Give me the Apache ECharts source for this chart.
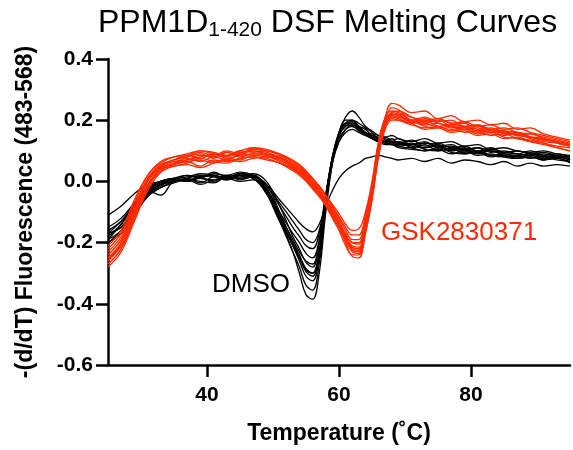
<!DOCTYPE html>
<html>
<head>
<meta charset="utf-8">
<script src="https://cdn.jsdelivr.net/npm/echarts@6/dist/echarts.min.js"></script>
<style>
  html, body { margin: 0; padding: 0; background: #fff; }
  #chart { width: 573px; height: 450px; }
</style>
</head>
<body>
<div id="chart"></div>
<script>
// temperatures (deg C) at which each curve is sampled
var temps = [25, 27, 29, 31, 33, 35,
             37, 39, 41, 43, 45, 47,
             49, 51, 53, 54, 55, 56, 57, 58,
             59, 60, 61, 62, 63, 64, 65, 66, 67, 68, 69,
             71, 73, 75, 77, 79, 81, 83, 85, 87, 89, 91, 93, 95];

var xTicks = [40, 60, 80];

// DMSO replicates, -(d/dT) fluorescence
var dmso1 = [-0.17, -0.15, -0.09, -0.04, -0.01, 0.0,
    0.01, -0.005, 0.015, 0.005, 0.02, 0.01,
    -0.03, -0.12, -0.23, -0.3, -0.37, -0.385, -0.3, -0.1,
    0.06, 0.16, 0.21, 0.23, 0.21, 0.18, 0.165, 0.15, 0.145, 0.15, 0.14,
    0.13, 0.14, 0.125, 0.13, 0.115, 0.12, 0.105, 0.11, 0.1, 0.095, 0.1, 0.09, 0.085];
var dmso2 = [-0.19, -0.16, -0.1, -0.045, -0.015, 0.005,
    0.0, 0.015, 0.02, 0.01, 0.025, 0.015,
    -0.035, -0.13, -0.23, -0.28, -0.34, -0.355, -0.27, -0.08,
    0.07, 0.15, 0.19, 0.2, 0.19, 0.175, 0.16, 0.14, 0.145, 0.135, 0.14,
    0.12, 0.125, 0.115, 0.12, 0.105, 0.11, 0.1, 0.095, 0.1, 0.09, 0.095, 0.085, 0.08];
var dmso3 = [-0.2, -0.17, -0.11, -0.05, -0.02, 0.0,
    0.005, 0.0, -0.005, 0.015, 0.01, 0.02,
    -0.02, -0.11, -0.21, -0.26, -0.31, -0.325, -0.25, -0.07,
    0.06, 0.15, 0.19, 0.195, 0.18, 0.16, 0.15, 0.14, 0.13, 0.14, 0.125,
    0.135, 0.115, 0.125, 0.11, 0.115, 0.1, 0.105, 0.095, 0.09, 0.1, 0.085, 0.08, 0.075];
var dmso4 = [-0.16, -0.13, -0.08, -0.03, 0.0, 0.01,
    0.015, 0.025, 0.02, 0.01, 0.015, 0.02,
    -0.025, -0.12, -0.21, -0.25, -0.295, -0.31, -0.24, -0.06,
    0.08, 0.16, 0.2, 0.2, 0.18, 0.16, 0.155, 0.15, 0.135, 0.13, 0.13,
    0.12, 0.125, 0.12, 0.105, 0.11, 0.1, 0.11, 0.095, 0.1, 0.09, 0.085, 0.09, 0.08];
var dmso5 = [-0.18, -0.14, -0.07, -0.02, 0.0, 0.005,
    0.02, 0.01, 0.03, 0.015, 0.025, 0.01,
    -0.04, -0.13, -0.2, -0.24, -0.285, -0.3, -0.23, -0.05,
    0.08, 0.15, 0.18, 0.19, 0.18, 0.17, 0.15, 0.14, 0.13, 0.125, 0.12,
    0.125, 0.11, 0.115, 0.1, 0.105, 0.095, 0.1, 0.09, 0.085, 0.09, 0.08, 0.085, 0.07];
var dmso6 = [-0.17, -0.15, -0.09, -0.035, -0.01, 0.0,
    0.01, 0.02, 0.015, 0.005, 0.02, 0.025,
    0.0, -0.08, -0.18, -0.22, -0.265, -0.28, -0.2, -0.05,
    0.08, 0.15, 0.185, 0.18, 0.17, 0.155, 0.14, 0.135, 0.125, 0.13, 0.115,
    0.11, 0.12, 0.1, 0.105, 0.095, 0.1, 0.085, 0.09, 0.08, 0.085, 0.075, 0.08, 0.07];
var dmso7 = [-0.19, -0.14, -0.085, -0.04, -0.02, -0.005,
    0.005, -0.01, 0.005, 0.01, 0.0, 0.005,
    -0.025, -0.1, -0.17, -0.2, -0.235, -0.25, -0.19, -0.05,
    0.07, 0.14, 0.17, 0.18, 0.165, 0.15, 0.14, 0.13, 0.12, 0.12, 0.11,
    0.105, 0.1, 0.11, 0.095, 0.09, 0.1, 0.085, 0.08, 0.085, 0.075, 0.08, 0.07, 0.065];
var dmso8 = [-0.15, -0.12, -0.07, -0.025, 0.0, 0.01,
    0.0, 0.015, 0.02, 0.01, 0.025, 0.01,
    -0.015, -0.08, -0.15, -0.18, -0.21, -0.22, -0.17, -0.04,
    0.07, 0.13, 0.16, 0.17, 0.16, 0.15, 0.145, 0.13, 0.125, 0.12, 0.115,
    0.12, 0.105, 0.1, 0.11, 0.09, 0.095, 0.08, 0.085, 0.075, 0.08, 0.07, 0.075, 0.065];
var dmso9 = [-0.18, -0.14, -0.08, -0.03, -0.045, 0.0,
    0.005, 0.01, 0.0, 0.02, 0.01, 0.015,
    -0.015, -0.07, -0.13, -0.16, -0.19, -0.2, -0.16, -0.05,
    0.06, 0.13, 0.17, 0.185, 0.17, 0.155, 0.14, 0.13, 0.13, 0.12, 0.125,
    0.11, 0.1, 0.105, 0.09, 0.1, 0.085, 0.09, 0.08, 0.075, 0.08, 0.07, 0.075, 0.06];
var dmso10 = [-0.11, -0.08, -0.04, -0.01, 0.0, 0.01,
    0.005, 0.015, 0.02, 0.01, 0.02, 0.01,
    -0.01, -0.06, -0.11, -0.135, -0.155, -0.165, -0.14, -0.08,
    -0.03, 0.01, 0.035, 0.05, 0.06, 0.075, 0.08, 0.085, 0.08, 0.075, 0.07,
    0.075, 0.065, 0.075, 0.06, 0.07, 0.065, 0.055, 0.065, 0.05, 0.06, 0.05, 0.055, 0.05];
var dmso11 = [-0.2, -0.16, -0.09, -0.04, -0.01, 0.01,
    0.02, 0.015, 0.025, 0.02, 0.03, 0.02,
    -0.01, -0.1, -0.2, -0.25, -0.29, -0.3, -0.23, -0.06,
    0.08, 0.16, 0.19, 0.19, 0.175, 0.16, 0.15, 0.145, 0.14, 0.13, 0.125,
    0.12, 0.13, 0.11, 0.115, 0.1, 0.11, 0.095, 0.1, 0.09, 0.085, 0.09, 0.08, 0.075];
var dmso12 = [-0.17, -0.13, -0.075, -0.03, -0.005, 0.005,
    0.0, 0.01, 0.005, 0.02, 0.005, 0.015,
    -0.04, -0.11, -0.19, -0.23, -0.26, -0.27, -0.2, -0.05,
    0.07, 0.15, 0.18, 0.185, 0.175, 0.16, 0.145, 0.14, 0.13, 0.125, 0.13,
    0.115, 0.11, 0.12, 0.1, 0.105, 0.09, 0.1, 0.085, 0.08, 0.085, 0.075, 0.08, 0.07];

// GSK2830371 replicates
var gsk1 = [-0.27, -0.22, -0.12, -0.02, 0.04, 0.06,
    0.075, 0.065, 0.08, 0.07, 0.09, 0.1,
    0.085, 0.07, 0.045, 0.03, 0.01, -0.015, -0.04, -0.075,
    -0.11, -0.15, -0.2, -0.245, -0.25, -0.17, -0.06, 0.1, 0.21, 0.255, 0.25,
    0.225, 0.23, 0.205, 0.215, 0.195, 0.2, 0.185, 0.19, 0.17, 0.175, 0.155, 0.145, 0.135];
var gsk2 = [-0.25, -0.2, -0.1, 0.0, 0.05, 0.07,
    0.08, 0.09, 0.075, 0.095, 0.085, 0.105,
    0.095, 0.08, 0.06, 0.045, 0.025, 0.0, -0.025, -0.06,
    -0.095, -0.13, -0.18, -0.22, -0.225, -0.15, -0.04, 0.11, 0.2, 0.24, 0.235,
    0.2, 0.21, 0.195, 0.2, 0.18, 0.185, 0.17, 0.175, 0.16, 0.155, 0.145, 0.135, 0.125];
var gsk3 = [-0.22, -0.17, -0.07, 0.02, 0.06, 0.08,
    0.085, 0.1, 0.09, 0.085, 0.1, 0.095,
    0.1, 0.085, 0.065, 0.05, 0.03, 0.005, -0.02, -0.05,
    -0.085, -0.12, -0.16, -0.19, -0.19, -0.12, -0.02, 0.12, 0.2, 0.22, 0.215,
    0.195, 0.185, 0.19, 0.175, 0.18, 0.165, 0.17, 0.155, 0.16, 0.145, 0.135, 0.13, 0.12];
var gsk4 = [-0.26, -0.21, -0.11, -0.01, 0.04, 0.05,
    0.06, 0.075, 0.065, 0.06, 0.075, 0.08,
    0.075, 0.06, 0.035, 0.02, 0.0, -0.025, -0.05, -0.08,
    -0.115, -0.15, -0.19, -0.225, -0.23, -0.16, -0.05, 0.09, 0.18, 0.215, 0.21,
    0.2, 0.18, 0.175, 0.18, 0.16, 0.165, 0.15, 0.155, 0.14, 0.135, 0.125, 0.115, 0.11];
var gsk5 = [-0.24, -0.19, -0.09, 0.0, 0.045, 0.06,
    0.07, 0.08, 0.09, 0.075, 0.085, 0.09,
    0.085, 0.075, 0.05, 0.035, 0.015, -0.01, -0.035, -0.065,
    -0.1, -0.14, -0.175, -0.2, -0.205, -0.14, -0.04, 0.1, 0.185, 0.21, 0.205,
    0.19, 0.2, 0.18, 0.17, 0.175, 0.16, 0.165, 0.15, 0.155, 0.14, 0.13, 0.125, 0.115];
var gsk6 = [-0.28, -0.23, -0.13, -0.03, 0.03, 0.05,
    0.055, 0.045, 0.06, 0.07, 0.065, 0.075,
    0.08, 0.065, 0.04, 0.025, 0.005, -0.02, -0.045, -0.08,
    -0.12, -0.16, -0.21, -0.24, -0.24, -0.17, -0.06, 0.08, 0.17, 0.2, 0.2,
    0.19, 0.17, 0.175, 0.16, 0.165, 0.15, 0.155, 0.14, 0.145, 0.13, 0.12, 0.11, 0.1];
var gsk7 = [-0.23, -0.18, -0.08, 0.01, 0.055, 0.07,
    0.08, 0.095, 0.085, 0.1, 0.09, 0.11,
    0.105, 0.09, 0.065, 0.05, 0.03, 0.01, -0.015, -0.045,
    -0.08, -0.115, -0.15, -0.175, -0.175, -0.11, -0.01, 0.13, 0.21, 0.23, 0.225,
    0.21, 0.2, 0.205, 0.19, 0.195, 0.18, 0.185, 0.17, 0.175, 0.16, 0.15, 0.14, 0.13];
var gsk8 = [-0.21, -0.16, -0.06, 0.02, 0.065, 0.08,
    0.09, 0.1, 0.095, 0.085, 0.1, 0.11,
    0.1, 0.09, 0.07, 0.055, 0.035, 0.01, -0.015, -0.045,
    -0.075, -0.105, -0.14, -0.16, -0.155, -0.1, 0.0, 0.13, 0.2, 0.215, 0.21,
    0.195, 0.19, 0.18, 0.185, 0.17, 0.175, 0.16, 0.165, 0.15, 0.155, 0.14, 0.13, 0.12];
var gsk9 = [-0.25, -0.21, -0.12, -0.02, 0.035, 0.055,
    0.065, 0.05, 0.07, 0.065, 0.075, 0.08,
    0.07, 0.06, 0.04, 0.025, 0.005, -0.02, -0.045, -0.075,
    -0.11, -0.145, -0.185, -0.21, -0.215, -0.15, -0.05, 0.09, 0.18, 0.205, 0.2,
    0.185, 0.175, 0.18, 0.165, 0.17, 0.155, 0.16, 0.145, 0.14, 0.13, 0.125, 0.11, 0.1];
var gsk10 = [-0.26, -0.2, -0.1, 0.005, 0.05, 0.065,
    0.07, 0.085, 0.08, 0.095, 0.08, 0.09,
    0.09, 0.075, 0.055, 0.04, 0.02, -0.005, -0.03, -0.065,
    -0.1, -0.14, -0.18, -0.215, -0.22, -0.15, -0.045, 0.1, 0.19, 0.225, 0.22,
    0.195, 0.205, 0.19, 0.185, 0.19, 0.17, 0.175, 0.16, 0.155, 0.145, 0.14, 0.125, 0.115];
var gsk11 = [-0.24, -0.19, -0.095, 0.005, 0.05, 0.07,
    0.085, 0.075, 0.09, 0.08, 0.095, 0.1,
    0.09, 0.08, 0.055, 0.04, 0.02, -0.005, -0.03, -0.06,
    -0.09, -0.13, -0.17, -0.2, -0.2, -0.13, -0.03, 0.11, 0.19, 0.22, 0.22,
    0.2, 0.19, 0.2, 0.18, 0.175, 0.18, 0.165, 0.16, 0.15, 0.145, 0.14, 0.13, 0.12];
var gsk12 = [-0.27, -0.22, -0.115, -0.015, 0.04, 0.055,
    0.065, 0.07, 0.06, 0.075, 0.07, 0.085,
    0.08, 0.07, 0.045, 0.03, 0.01, -0.015, -0.04, -0.07,
    -0.105, -0.145, -0.19, -0.23, -0.235, -0.16, -0.055, 0.09, 0.185, 0.225, 0.23,
    0.21, 0.195, 0.205, 0.19, 0.18, 0.185, 0.17, 0.165, 0.16, 0.145, 0.135, 0.13, 0.12];

var dmsoCurves = [dmso1, dmso2, dmso3, dmso4, dmso5, dmso6, dmso7, dmso8, dmso9, dmso10, dmso11, dmso12];
var gskCurves = [gsk1, gsk2, gsk3, gsk4, gsk5, gsk6, gsk7, gsk8, gsk9, gsk10, gsk11, gsk12];

var black = '#000000';
var red = '#ff2a00';
var font = 'Liberation Sans, Arial, sans-serif';

function makeSeries(vals, name, color) {
    return {
        name: name,
        type: 'line',
        smooth: 0.4,
        showSymbol: false,
        silent: true,
        lineStyle: { color: color, width: 1.3 },
        data: temps.map(function (t, i) { return [t, vals[i]]; })
    };
}

var series = [];
dmsoCurves.forEach(function (c) { series.push(makeSeries(c, 'DMSO', black)); });
gskCurves.forEach(function (c) { series.push(makeSeries(c, 'GSK2830371', red)); });

var chart = echarts.init(document.getElementById('chart'));
chart.setOption({
    animation: false,
    textStyle: { fontFamily: font },
    title: {
        left: 98,
        top: 5,
        padding: 0,
        text: '{a|PPM1D}{s|1-420}{a| DSF Melting Curves}',
        textStyle: {
            fontWeight: 'normal',
            rich: {
                a: { fontFamily: font, fontSize: 32, fontWeight: 'normal', color: '#000', lineHeight: 36 },
                s: { fontFamily: font, fontSize: 21, fontWeight: 'normal', color: '#000', lineHeight: 21, verticalAlign: 'bottom' }
            }
        }
    },
    grid: { left: 108, right: 3, top: 59, bottom: 85 },
    xAxis: {
        type: 'value',
        min: 25,
        max: 95,
        name: 'Temperature (˚C)',
        nameLocation: 'middle',
        nameGap: 57,
        nameTextStyle: { fontFamily: font, fontSize: 23, fontWeight: 'bold', color: '#000' },
        splitLine: { show: false },
        axisLine: { onZero: false, lineStyle: { color: '#000', width: 2.5 } },
        axisTick: { customValues: xTicks, length: 12, lineStyle: { color: '#000', width: 2.5 } },
        axisLabel: { customValues: xTicks, margin: 20, fontFamily: font, fontSize: 21, fontWeight: 'bold', color: '#000' }
    },
    yAxis: {
        type: 'value',
        min: -0.6,
        max: 0.4,
        interval: 0.2,
        name: '-(d/dT) Fluorescence (483-568)',
        nameLocation: 'middle',
        nameGap: 71,
        nameTextStyle: { fontFamily: font, fontSize: 23, fontWeight: 'bold', color: '#000' },
        splitLine: { show: false },
        axisLine: { show: true, onZero: false, lineStyle: { color: '#000', width: 2.5 } },
        axisTick: { show: true, length: 12, lineStyle: { color: '#000', width: 2.5 } },
        axisLabel: {
            margin: 15, fontFamily: font, fontSize: 21, fontWeight: 'bold', color: '#000',
            formatter: function (v) { return v.toFixed(1); }
        }
    },
    graphic: [
        { type: 'text', left: 212, top: 272, style: { text: 'DMSO', fontFamily: font, fontSize: 26, fill: black } },
        { type: 'text', left: 381, top: 220, style: { text: 'GSK2830371', fontFamily: font, fontSize: 26, fill: red } }
    ],
    series: series
});
</script>
</body>
</html>
